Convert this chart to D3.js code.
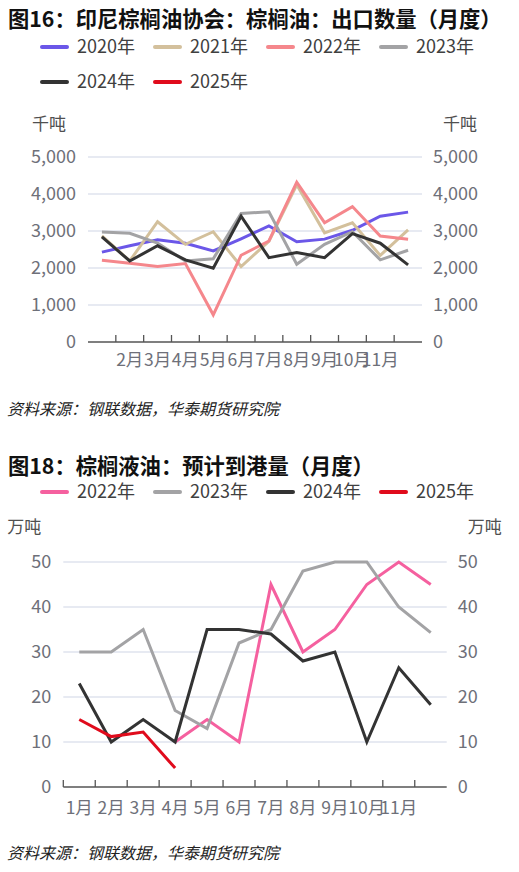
<!DOCTYPE html>
<html>
<head>
<meta charset="utf-8">
<script src="https://cdn.jsdelivr.net/npm/d3@7"></script>
<style>
  html, body { margin: 0; padding: 0; background: #fff; }
  svg { display: block; font-family: "Noto Sans CJK SC", "Noto Sans", sans-serif; }
</style>
</head>
<body>
<svg id="chart" width="519" height="872"></svg>
<script>
// ---------- data ----------
const months = ["1月","2月","3月","4月","5月","6月","7月","8月","9月","10月","11月","12月"];

// Chart 1: 印尼棕榈油协会 出口数量 (千吨)
const exportSeriesNames = ["2020年","2021年","2022年","2023年","2024年","2025年"];
const exportColors = ["#6b57e8","#d3c09c","#f5878c","#a3a3a5","#333333","#e00b1c"];
const export2020 = [2430, 2600, 2760, 2670, 2460, 2790, 3135, 2710, 2780, 3020, 3400, 3510];
const export2021 = [2870, 2190, 3250, 2640, 2980, 2040, 2720, 4250, 2950, 3220, 2340, 3030];
const export2022 = [2210, 2130, 2040, 2120, 735, 2345, 2730, 4320, 3225, 3660, 2865, 2775];
const export2023 = [2970, 2940, 2670, 2190, 2250, 3475, 3520, 2100, 2640, 2980, 2220, 2480];
const export2024 = [2840, 2190, 2600, 2220, 1995, 3400, 2280, 2415, 2280, 2930, 2670, 2085];
const export2025 = [];
const exportTicks = [0, 1000, 2000, 3000, 4000, 5000];
const exportXLabels = ["2月","3月","4月","5月","6月","7月","8月","9月","10月","11月"];

// Chart 2: 棕榈液油 预计到港量 (万吨)
const arrivalSeriesNames = ["2022年","2023年","2024年","2025年"];
const arrivalColors = ["#f5609f","#a3a3a5","#333333","#e00b1c"];
const arrival2022 = [null, null, null, 10, 15, 10, 45, 30, 35, 45, 50, 45];
const arrival2023 = [30, 30, 35, 17, 13, 32, 35, 48, 50, 50, 40, 34.3];
const arrival2024 = [23, 10, 15, 10, 35, 35, 34, 28, 30, 10, 26.5, 18.3];
const arrival2025 = [15, 11.2, 12.2, 4.2];
const arrivalTicks = [0, 10, 20, 30, 40, 50];
const arrivalXLabels = ["1月","2月","3月","4月","5月","6月","7月","8月","9月","10月","11月"];

// ---------- drawing ----------
const svg = d3.select("#chart");
const labelColor = "#6e7079";
const gridColor = "#dfe3ee";

function drawChart(cfg) {
  const g = svg.append("g");
  // title
  g.append("text").attr("x", 8).attr("y", cfg.titleY)
    .attr("font-size", 21.3).attr("font-weight", "bold").attr("fill", "#111")
    .text(cfg.title);

  // legend
  cfg.names.forEach((name, i) => {
    const row = Math.floor(i / 4), col = i % 4;
    const lx = 40 + col * 113, ly = cfg.legendY + row * 35;
    g.append("line").attr("x1", lx + 2).attr("x2", lx + 27).attr("y1", ly).attr("y2", ly)
      .attr("stroke", cfg.colors[i]).attr("stroke-width", 4).attr("stroke-linecap", "round");
    g.append("text").attr("x", lx + 37).attr("y", ly).attr("dy", "0.36em")
      .attr("font-size", 18).attr("fill", "#404040").text(name);
  });

  const x = d3.scaleBand().domain(months).range(cfg.xRange).padding(0);
  const y = d3.scaleLinear().domain(cfg.yDomain).range(cfg.yRange);

  // unit names
  g.append("text").attr("x", cfg.xRange[0] - 56).attr("y", cfg.unitY).attr("dy", "0.36em")
    .attr("font-size", 17).attr("fill", "#505050").text(cfg.unit);
  g.append("text").attr("x", cfg.xRange[1] + 21).attr("y", cfg.unitY).attr("dy", "0.36em")
    .attr("font-size", 17).attr("fill", "#505050").text(cfg.unit);

  // grid lines
  g.selectAll(null).data(cfg.ticks.filter(t => t !== 0)).enter().append("line")
    .attr("x1", cfg.xRange[0]).attr("x2", cfg.xRange[1])
    .attr("y1", d => y(d)).attr("y2", d => y(d))
    .attr("stroke", gridColor).attr("stroke-width", 1.3);

  // y axis labels left & right
  const fmt = cfg.fmt;
  g.selectAll(null).data(cfg.ticks).enter().append("text")
    .attr("x", cfg.xRange[0] - 12).attr("y", d => y(d)).attr("dy", "0.36em")
    .attr("text-anchor", "end").attr("font-size", 18).attr("fill", labelColor)
    .text(d => fmt(d));
  g.selectAll(null).data(cfg.ticks).enter().append("text")
    .attr("x", cfg.xRange[1] + 11).attr("y", d => y(d)).attr("dy", "0.36em")
    .attr("text-anchor", "start").attr("font-size", 18).attr("fill", labelColor)
    .text(d => fmt(d));

  // x axis line and ticks
  const axisY = y(0);
  g.append("line").attr("x1", cfg.xRange[0]).attr("x2", cfg.xRange[1])
    .attr("y1", axisY).attr("y2", axisY).attr("stroke", "#555").attr("stroke-width", 1.5);
  const tickMonths = months.slice(cfg.firstTick, 12);
  g.selectAll(null).data(tickMonths).enter().append("line")
    .attr("x1", d => x(d)).attr("x2", d => x(d))
    .attr("y1", axisY).attr("y2", axisY - 7)
    .attr("stroke", "#555").attr("stroke-width", 1.3);

  // x labels (centred in each month band, as in the reference; 10月/11月 overlap there too)
  g.selectAll(null).data(cfg.xLabels).enter().append("text")
    .attr("x", d => x(d) + x.bandwidth() / 2).attr("y", cfg.xLabelY).attr("dy", "0.36em")
    .attr("text-anchor", "middle").attr("font-size", 17.5).attr("fill", labelColor)
    .text(d => d);

  // lines
  const line = d3.line()
    .defined(d => d.v != null)
    .x(d => x(d.m) + x.bandwidth() / 2)
    .y(d => y(d.v));
  cfg.series.forEach((vals, i) => {
    const pts = vals.map((v, j) => ({ m: months[j], v: v }));
    if (pts.length === 0) return;
    g.append("path").attr("d", line(pts)).attr("fill", "none")
      .attr("stroke", cfg.colors[i]).attr("stroke-width", 3)
      .attr("stroke-linejoin", "miter").attr("stroke-linecap", "butt");
  });

  // source
  g.append("text").attr("x", 7).attr("y", cfg.sourceY).attr("dy", "0.36em")
    .attr("font-size", 16).attr("font-style", "italic").attr("fill", "#222")
    .text("资料来源：钢联数据，华泰期货研究院");
}

drawChart({
  title: "图16：印尼棕榈油协会：棕榈油：出口数量（月度）",
  titleY: 27,
  names: exportSeriesNames, colors: exportColors,
  legendY: 47,
  series: [export2020, export2021, export2022, export2023, export2024, export2025],
  xRange: [88, 422], yDomain: [0, 5000], yRange: [342, 157],
  ticks: exportTicks, fmt: d3.format(","),
  unit: "千吨", unitY: 124,
  xLabels: exportXLabels, xLabelY: 360, firstTick: 1,
  sourceY: 409
});

drawChart({
  title: "图18：棕榈液油：预计到港量（月度）",
  titleY: 474,
  names: arrivalSeriesNames, colors: arrivalColors,
  legendY: 492,
  series: [arrival2022, arrival2023, arrival2024, arrival2025],
  xRange: [63.3, 446.7], yDomain: [0, 50], yRange: [787, 562],
  ticks: arrivalTicks, fmt: d => String(d),
  unit: "万吨", unitY: 527,
  xLabels: arrivalXLabels, xLabelY: 808, firstTick: 0,
  sourceY: 853
});
</script>
</body>
</html>
